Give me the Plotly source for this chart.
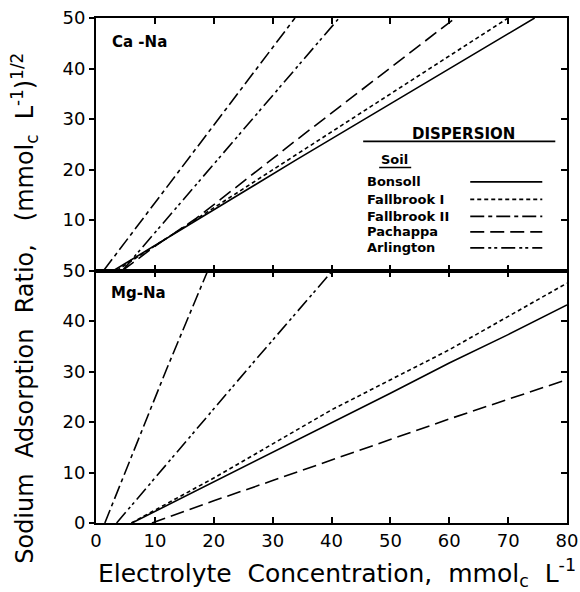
import plotly.graph_objects as go

# ---- data ----
soils = ["Bonsoll", "Fallbrook I", "Fallbrook II", "Pachappa", "Arlington"]

# Ca-Na panel (top)
ca_bonsoll_x = [3.0, 10, 17, 34, 74.5]
ca_bonsoll_y = [0, 5.0, 9.9, 21.9, 50]
ca_fallI_x = [3.5, 10, 17, 34, 70]
ca_fallI_y = [0, 4.9, 10.1, 22.9, 50]
ca_fallII_x = [1.3, 33.8]
ca_fallII_y = [0, 50]
ca_pach_x = [4.5, 10, 17, 34, 61]
ca_pach_y = [0, 4.8, 10.3, 25.8, 50]
ca_arl_x = [4.5, 41.3]
ca_arl_y = [0, 50]

# Mg-Na panel (bottom)
mg_bonsoll_x = [6.1, 20, 30, 40, 46, 50, 60, 70, 80]
mg_bonsoll_y = [0, 8.1, 14.0, 19.8, 23.3, 25.7, 31.7, 37.3, 43.2]
mg_fallI_x = [6.0, 20, 40, 60, 80]
mg_fallI_y = [0, 8.9, 22.4, 34.3, 47.5]
mg_fallII_x = [1.5, 12, 19]
mg_fallII_y = [0, 30.5, 50]
mg_pach_x = [9.5, 20, 30, 40, 60, 80]
mg_pach_y = [0, 4.4, 8.4, 12.5, 20.6, 28.4]
mg_arl_x = [3.5, 25.7, 40.2]
mg_arl_y = [0, 30.4, 50]

x_ticks = [0, 10, 20, 30, 40, 50, 60, 70, 80]
y_ticks_bottom = [0, 10, 20, 30, 40, 50]
y_ticks_top = [10, 20, 30, 40, 50]

# ---- styles ----
dashes = {
    "Bonsoll": "solid",
    "Fallbrook I": "4px,3px",
    "Fallbrook II": "14px,4px,4px,4px",
    "Pachappa": "14px,6px",
    "Arlington": "14px,4px,3px,3px,3px,4px",
}
LW = 1.6
INK = "black"
FONT = "DejaVu Sans"

fig = go.Figure()

top = [
    ("Bonsoll", ca_bonsoll_x, ca_bonsoll_y),
    ("Fallbrook I", ca_fallI_x, ca_fallI_y),
    ("Fallbrook II", ca_fallII_x, ca_fallII_y),
    ("Pachappa", ca_pach_x, ca_pach_y),
    ("Arlington", ca_arl_x, ca_arl_y),
]
bottom = [
    ("Bonsoll", mg_bonsoll_x, mg_bonsoll_y),
    ("Fallbrook I", mg_fallI_x, mg_fallI_y),
    ("Fallbrook II", mg_fallII_x, mg_fallII_y),
    ("Pachappa", mg_pach_x, mg_pach_y),
    ("Arlington", mg_arl_x, mg_arl_y),
]

for name, xs, ys in top:
    fig.add_trace(go.Scatter(x=xs, y=ys, mode="lines", name=name, xaxis="x2", yaxis="y2",
                             line=dict(color=INK, width=LW, dash=dashes[name]),
                             showlegend=False, cliponaxis=True))
for name, xs, ys in bottom:
    fig.add_trace(go.Scatter(x=xs, y=ys, mode="lines", name=name, xaxis="x", yaxis="y",
                             line=dict(color=INK, width=LW, dash=dashes[name]),
                             showlegend=False, cliponaxis=True))

# dummy traces to activate right-hand axes
fig.add_trace(go.Scatter(x=[None], y=[None], xaxis="x", yaxis="y3", showlegend=False, hoverinfo="skip"))
fig.add_trace(go.Scatter(x=[None], y=[None], xaxis="x2", yaxis="y4", showlegend=False, hoverinfo="skip"))

axis_common = dict(showline=True, linecolor=INK, linewidth=2, showgrid=False, zeroline=False,
                   automargin=False, tickcolor=INK, tickwidth=1.5,
                   tickfont=dict(family=FONT, size=18, color=INK))

fig.update_layout(
    template="none",
    width=580, height=592,
    margin=dict(l=96, r=13, t=18, b=69),
    paper_bgcolor="white", plot_bgcolor="white",
    xaxis=dict(domain=[0, 1], anchor="y", range=[0, 80], tickvals=x_ticks, ticks="inside",
               ticklen=6, mirror="ticks", **axis_common),
    yaxis=dict(domain=[0, 0.5], anchor="x", range=[0, 50], tickvals=y_ticks_bottom,
               ticks="outside", ticklen=5, **axis_common),
    xaxis2=dict(domain=[0, 1], anchor="y2", range=[0, 80], tickvals=x_ticks, ticks="inside",
                ticklen=6, mirror="ticks", showticklabels=False, **axis_common),
    yaxis2=dict(domain=[0.5, 1], anchor="x2", range=[0, 50], tickvals=y_ticks_top,
                ticks="outside", ticklen=5, **axis_common),
    yaxis3=dict(overlaying="y", side="right", anchor="x", range=[0, 50], tickvals=y_ticks_bottom,
                ticks="inside", ticklen=6, showticklabels=False, **axis_common),
    yaxis4=dict(overlaying="y2", side="right", anchor="x2", range=[0, 50], tickvals=y_ticks_top,
                ticks="inside", ticklen=6, showticklabels=False, **axis_common),
    showlegend=False,
)

W = 470.7
H = 505.3


def px(x):
    return (x - 96) / W


def py(y):
    return (523.3 - y) / H


ann = []
shapes = []

# axis titles
ann.append(dict(text="Electrolyte  Concentration,  mmol<sub>c</sub>  L<sup>-1</sup>",
                x=px(337), y=py(573), xref="paper", yref="paper", showarrow=False,
                xanchor="center", yanchor="middle",
                font=dict(family=FONT, size=25, color=INK)))
ann.append(dict(text="Sodium  Adsorption  Ratio,   (mmol<sub>c</sub>  L<sup>-1</sup>)<sup>1/2</sup>",
                x=px(25), y=py(308), xref="paper", yref="paper", showarrow=False,
                textangle=-90, xanchor="center", yanchor="middle",
                font=dict(family=FONT, size=24, color=INK)))

# panel labels
ann.append(dict(text="<b>Ca -Na</b>", x=px(110), y=py(42), xref="paper", yref="paper",
                showarrow=False, xanchor="left", yanchor="middle",
                font=dict(family=FONT, size=15, color=INK)))
ann.append(dict(text="<b>Mg-Na</b>", x=px(109), y=py(293), xref="paper", yref="paper",
                showarrow=False, xanchor="left", yanchor="middle",
                font=dict(family=FONT, size=15, color=INK)))

# legend block
ann.append(dict(text="<b>DISPERSION</b>", x=px(463), y=py(134), xref="paper", yref="paper",
                showarrow=False, xanchor="center", yanchor="middle",
                font=dict(family=FONT, size=15, color=INK)))
shapes.append(dict(type="line", xref="paper", yref="paper", x0=px(363), x1=px(555),
                   y0=py(141.5), y1=py(141.5), line=dict(color=INK, width=1.8)))
ann.append(dict(text="<b>Soil</b>", x=px(379), y=py(160), xref="paper", yref="paper",
                showarrow=False, xanchor="left", yanchor="middle",
                font=dict(family=FONT, size=13, color=INK)))
shapes.append(dict(type="line", xref="paper", yref="paper", x0=px(379), x1=px(411),
                   y0=py(167.5), y1=py(167.5), line=dict(color=INK, width=1.5)))

entry_y = [182.0, 199.5, 216.5, 232.0, 248.0]
for name, ey in zip(soils, entry_y):
    ann.append(dict(text="<b>" + name + "</b>", x=px(365), y=py(ey), xref="paper", yref="paper",
                    showarrow=False, xanchor="left", yanchor="middle",
                    font=dict(family=FONT, size=13, color=INK)))
    shapes.append(dict(type="line", xref="paper", yref="paper", x0=px(470), x1=px(542),
                       y0=py(ey), y1=py(ey),
                       line=dict(color=INK, width=LW, dash=dashes[name])))

fig.update_layout(annotations=ann, shapes=shapes)

fig.write_html("out.html", config={"displayModeBar": False},
               post_script="document.body.style.margin='0';")
